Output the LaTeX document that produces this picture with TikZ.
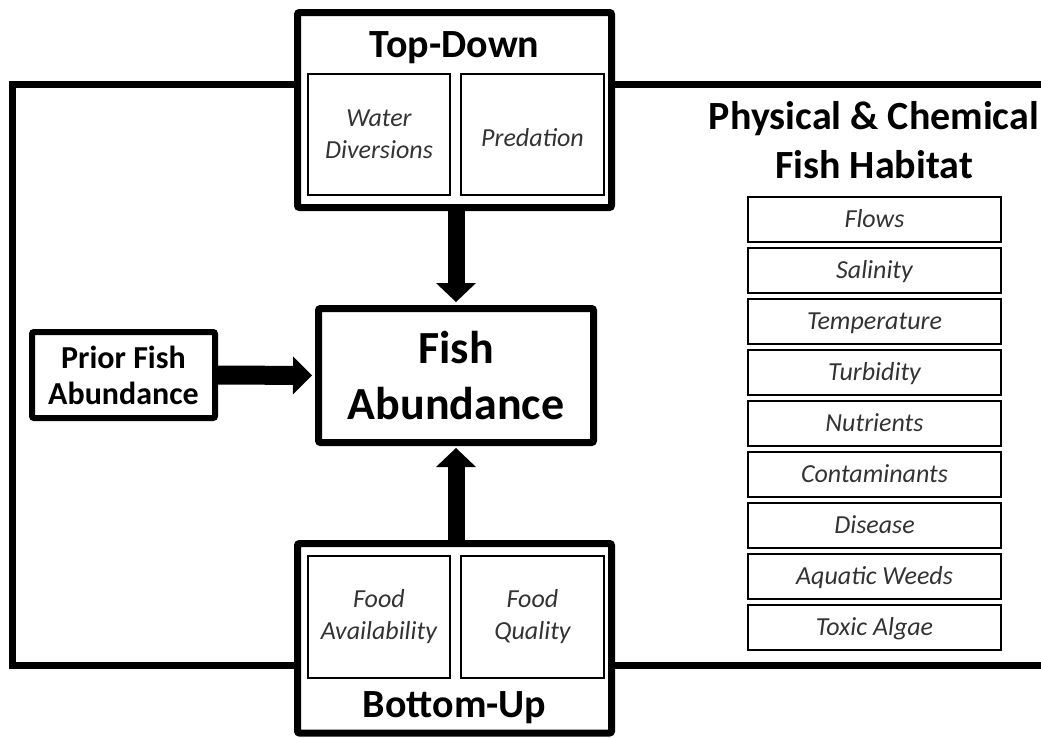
\documentclass[tikz,border=0pt]{standalone}
\usepackage{fontspec}
\newfontfamily\calibri{Carlito}
\usetikzlibrary{arrows.meta, positioning}

\begin{document}
\begin{tikzpicture}[x=1pt, y=-1pt, >=Triangle, line join=miter]
	%======================
	% STYLES
	%======================
	\tikzset{
		bigbox/.style={draw, line width=7pt, rounded corners=2pt, inner sep=0pt, align=center},
		subbox/.style={draw, line width=2pt, inner sep=0pt, align=center, text=black!80,
			font=\calibri\itshape\fontsize{26}{32}\selectfont},
		item/.style={subbox, minimum width=253pt, minimum height=45pt, text height=16.5pt, text depth=0pt},
		heading/.style={inner sep=0pt, align=center, font=\calibri\bfseries\fontsize{40}{49}\selectfont},
		loopline/.style={line width=7pt},
		bigarrow/.style={line width=17pt, -{Triangle[width=40pt, length=19pt, line width=0pt]}}
	}
	
	\useasboundingbox (0,0) rectangle (1041,737);
	\clip (0,0) rectangle (1041,737);
	
	% Top-Down group
	\node[bigbox, minimum width=314pt, minimum height=195pt] (td) at (454.5,110) {};
	\node[heading, anchor=base] (tdtitle) at (454.5,57) {Top-Down};
	\node[subbox, minimum width=142pt, minimum height=121pt] (water) at (379,134.5) {Water\\Diversions};
	\node[subbox, minimum width=143pt, minimum height=121pt, text height=24pt, text depth=0pt] (pred) at (532.5,134.5) {Predation};
	
	% Bottom-Up group
	\node[bigbox, minimum width=314pt, minimum height=189.5pt] (bu) at (454.5,638.25) {};
	\node[heading, anchor=base] (butitle) at (454.5,717) {Bottom-Up};
	\node[subbox, minimum width=142pt, minimum height=122pt] (foodav) at (379,617) {Food\\Availability};
	\node[subbox, minimum width=143pt, minimum height=122pt] (foodq) at (532.5,617) {Food\\Quality};
	
	% centre and prior abundance
	\node[bigbox, minimum width=275pt, minimum height=134pt,
		font=\calibri\bfseries\fontsize{46}{56}\selectfont] (fish) at (456,375.5) {Fish\\Abundance};
	\node[bigbox, line width=6pt, minimum width=183pt, minimum height=86pt,
		font=\calibri\bfseries\fontsize{32}{36}\selectfont] (prior) at (123.5,375) {Prior Fish\\Abundance};
	
	% habitat list
	\node[heading] (habitat) at (874,140) {Physical \& Chemical\\Fish Habitat};
	\foreach \txt [count=\i from 0] in {Flows, Salinity, Temperature, Turbidity, Nutrients,
		Contaminants, Disease, Aquatic Weeds, Toxic Algae}
		\node[item] (hab\i) at (874.5,{219.5+51*\i}) {\txt};
	
	% outer loop
	\coordinate (lt) at (12,84.5);
	\coordinate (lb) at (12,665.5);
	\coordinate (rt) at (1050,84.5);
	\coordinate (rb) at (1050,665.5);
	\draw[loopline] (td.west |- lt) -- (lt) -- (lb) -- (bu.west |- lb);
	\draw[loopline] (td.east |- lt) -- (rt);
	\draw[loopline] (bu.east |- lb) -- (rb);
	
	% arrows into fish abundance
	\draw[bigarrow, shorten <=-2pt, shorten >=3pt] (fish.north |- td.south) -- (fish.north);
	\draw[bigarrow, shorten <=-2pt, shorten >=2pt] (fish.south |- bu.north) -- (fish.south);
	\draw[bigarrow, line width=19pt, -{Triangle[width=38pt, length=19pt, line width=0pt]},
		shorten <=-2pt, shorten >=3pt] (prior.east) -- (fish.west);
\end{tikzpicture}
\end{document}
